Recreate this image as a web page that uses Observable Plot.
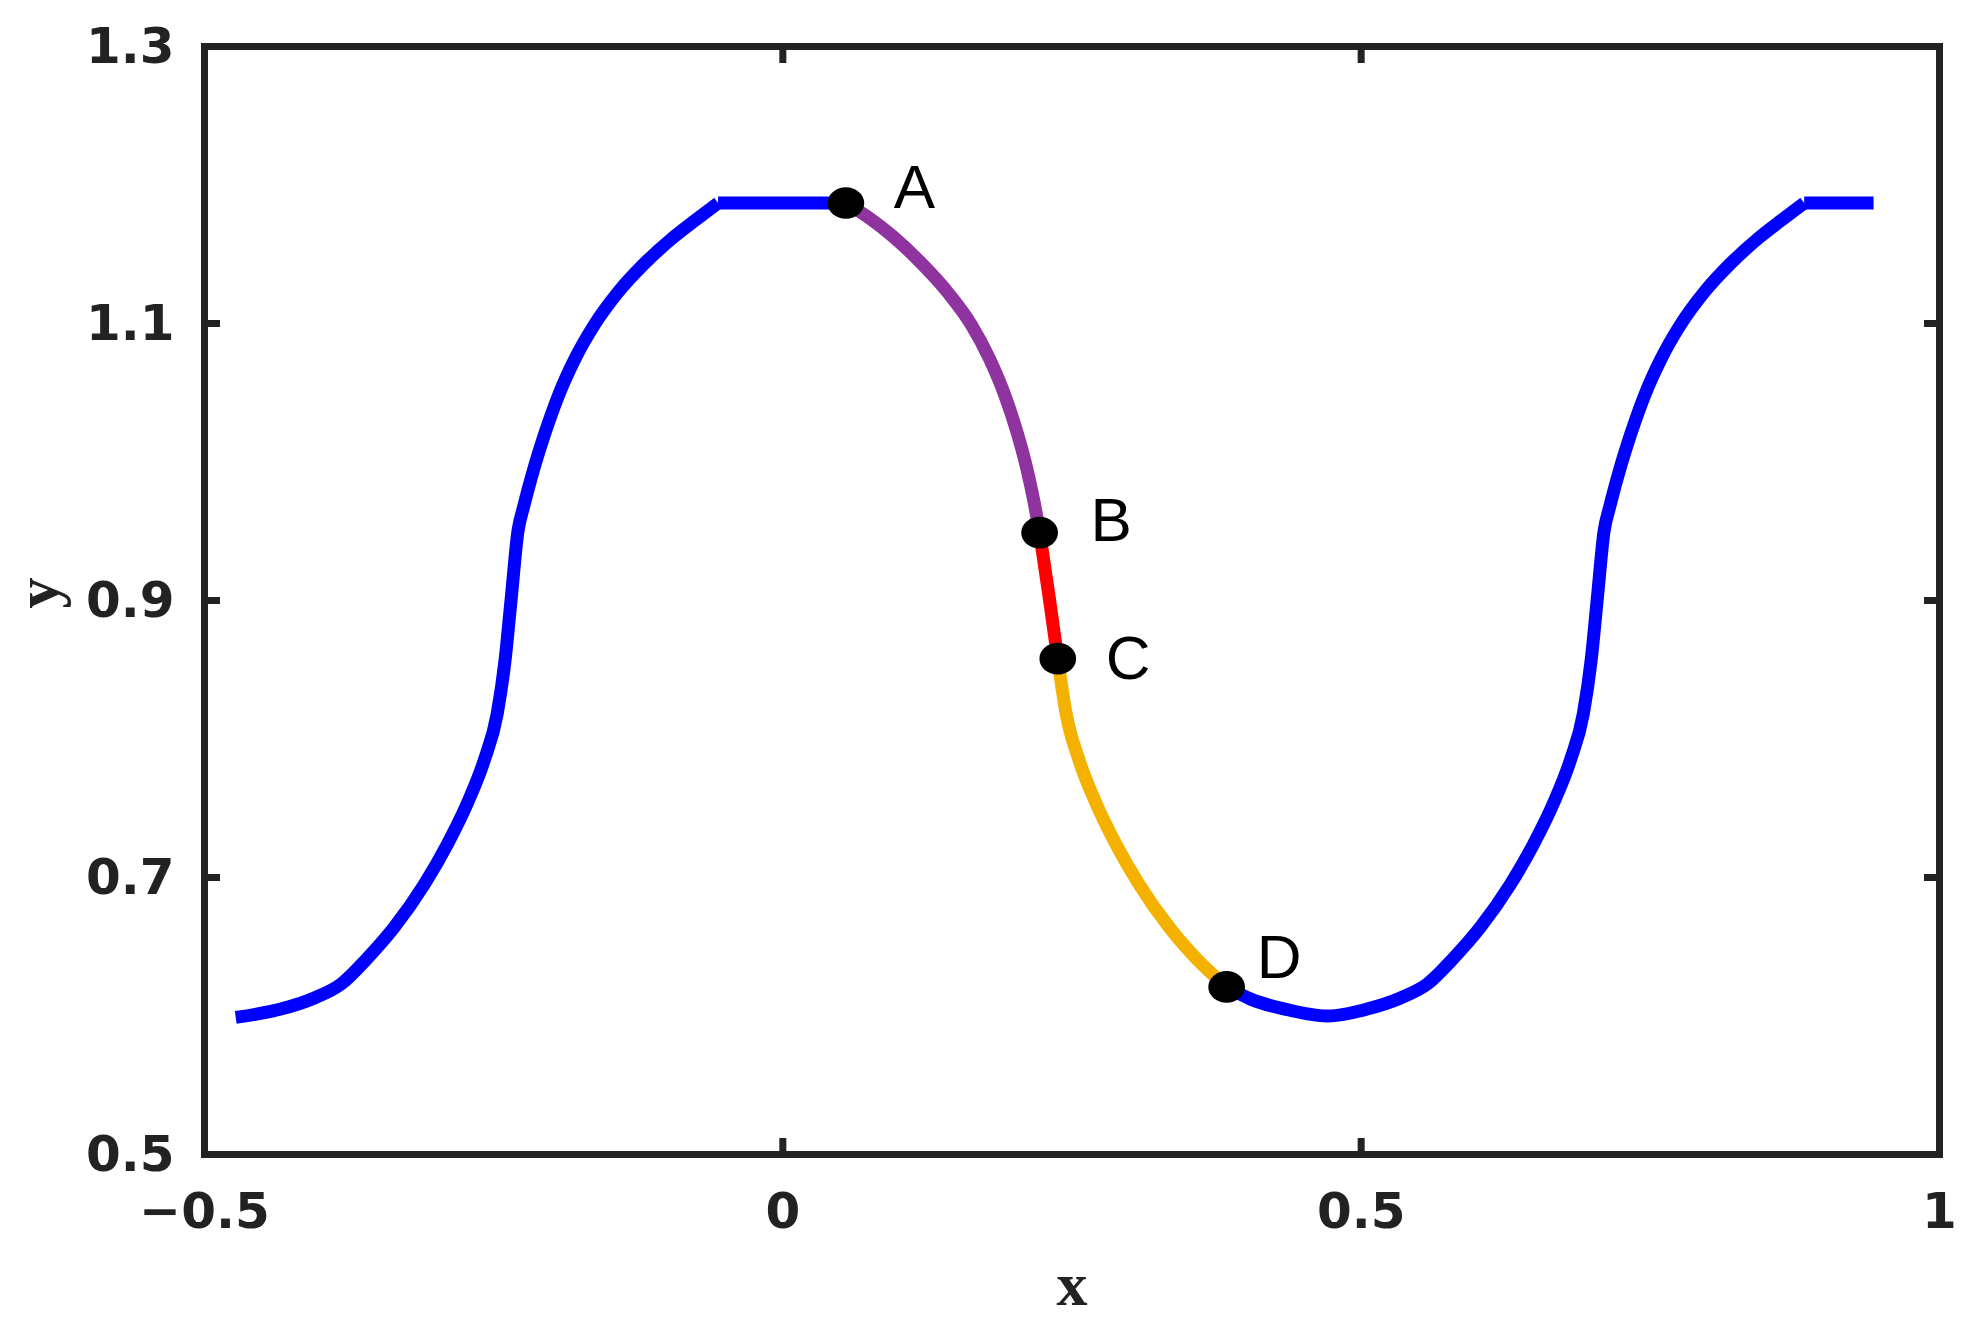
<!DOCTYPE html>
<html>
<head>
<meta charset="utf-8">
<script src="https://cdn.jsdelivr.net/npm/d3@7"></script>
<script src="https://cdn.jsdelivr.net/npm/@observablehq/plot@0.6"></script>
<style>
  html, body { margin: 0; padding: 0; background: #ffffff; }
  #chart svg { display: block; }
</style>
</head>
<body>
<div id="chart"></div>
<script>
// ---- Data ----
const xTicks = [-0.5, 0, 0.5, 1];
const xTickLabels = ["\u22120.5", "0", "0.5", "1"];
const yTicks = [0.5, 0.7, 0.9, 1.1, 1.3];
const yTickLabels = ["0.5", "0.7", "0.9", "1.1", "1.3"];

// Blue curve, left rise
const blueLeftX = [-0.473, -0.434, -0.405, -0.382, -0.360, -0.336, -0.310, -0.290, -0.272, -0.258, -0.247, -0.240, -0.235, -0.229, -0.224, -0.216, -0.206, -0.194, -0.180, -0.163, -0.143, -0.120, -0.095, -0.075, -0.056];
const blueLeftY = [0.599, 0.605, 0.613, 0.623, 0.641, 0.664, 0.695, 0.724, 0.755, 0.785, 0.818, 0.858, 0.900, 0.950, 0.968, 0.993, 1.020, 1.048, 1.074, 1.099, 1.122, 1.143, 1.162, 1.175, 1.187];
// Blue plateau up to point A
const blueTopLeftX = [-0.056, 0.0545];
const blueTopLeftY = [1.187, 1.187];

// Purple segment A -> B
const purpleX = [0.0545, 0.075, 0.095, 0.118, 0.143, 0.163, 0.179, 0.192, 0.203, 0.211, 0.217, 0.222];
const purpleY = [1.187, 1.176, 1.163, 1.145, 1.122, 1.099, 1.074, 1.048, 1.020, 0.995, 0.972, 0.949];

// Red segment B -> C
const redX = [0.222, 0.230, 0.2377];
const redY = [0.949, 0.904, 0.858];

// Orange segment C -> D
const orangeX = [0.2377, 0.245, 0.256, 0.270, 0.288, 0.308, 0.334, 0.358, 0.3837];
const orangeY = [0.858, 0.818, 0.785, 0.755, 0.724, 0.695, 0.664, 0.641, 0.621];

// Blue curve, right part (from point D)
const blueRightX = [0.3837, 0.405, 0.434, 0.471, 0.505, 0.534, 0.557, 0.579, 0.603, 0.629, 0.649, 0.667, 0.681, 0.692, 0.699, 0.704, 0.710, 0.715, 0.723, 0.733, 0.745, 0.759, 0.776, 0.796, 0.819, 0.844, 0.864, 0.883];
const blueRightY = [0.621, 0.612, 0.605, 0.600, 0.605, 0.613, 0.623, 0.641, 0.664, 0.695, 0.724, 0.755, 0.785, 0.818, 0.858, 0.900, 0.950, 0.968, 0.993, 1.020, 1.048, 1.074, 1.099, 1.122, 1.143, 1.162, 1.175, 1.187];
// Blue plateau at the right end
const blueTopRightX = [0.883, 0.943];
const blueTopRightY = [1.187, 1.187];

// Marked points
const pointNames = ["A", "B", "C", "D"];
const pointX = [0.0545, 0.222, 0.2377, 0.3837];
const pointY = [1.187, 0.949, 0.858, 0.621];

// ---- Build tables ----
const toRows = (xs, ys) => xs.map((x, i) => ({x, y: ys[i]}));
const segments = [
  {rows: toRows(blueLeftX, blueLeftY), color: "#0000FF"},
  {rows: toRows(blueTopLeftX, blueTopLeftY), color: "#0000FF"},
  {rows: toRows(purpleX, purpleY), color: "#8F339E"},
  {rows: toRows(redX, redY), color: "#FF0000"},
  {rows: toRows(orangeX, orangeY), color: "#F5B100"},
  {rows: toRows(blueRightX, blueRightY), color: "#0000FF"},
  {rows: toRows(blueTopRightX, blueTopRightY), color: "#0000FF"}
];
const points = pointNames.map((name, i) => ({name, x: pointX[i], y: pointY[i]}));

const labelOffsets = {A: [48, -15], B: [51, -11], C: [48, 0], D: [30, -29]};

// slightly wide elliptical marker
const ellipseSymbol = {
  draw(ctx, size) {
    const r = Math.sqrt(size / Math.PI);
    const a = r * 1.08, b = r * 0.93, k = 0.5523;
    ctx.moveTo(a, 0);
    ctx.bezierCurveTo(a, k * b, k * a, b, 0, b);
    ctx.bezierCurveTo(-k * a, b, -a, k * b, -a, 0);
    ctx.bezierCurveTo(-a, -k * b, -k * a, -b, 0, -b);
    ctx.bezierCurveTo(k * a, -b, a, -k * b, a, 0);
    ctx.closePath();
  }
};

const tickFont = {fontSize: 50, fontWeight: "bold", fontFamily: "'DejaVu Sans', 'Liberation Sans', Arial, sans-serif", fill: "#222222"};
const axisColor = "#222222";

const chart = Plot.plot({
  width: 1975,
  height: 1328,
  marginLeft: 204,
  marginRight: 36,
  marginTop: 46,
  marginBottom: 174,
  style: {background: "#ffffff", overflow: "visible"},
  x: {domain: [-0.5, 1], axis: null},
  y: {domain: [0.5, 1.3], axis: null},
  marks: [
    // curve segments
    ...segments.map(s => Plot.line(s.rows, {x: "x", y: "y", stroke: s.color, strokeWidth: 13, curve: "monotone-x", strokeLinecap: "butt", strokeLinejoin: "round"})),
    // points
    Plot.dot(points, {x: "x", y: "y", r: 17, symbol: ellipseSymbol, fill: "#000000", stroke: null}),
    ...points.map(p => Plot.text([p], {x: "x", y: "y", text: "name", dx: labelOffsets[p.name][0], dy: labelOffsets[p.name][1], textAnchor: "start", lineAnchor: "middle", fontSize: 62, fontFamily: "'Liberation Sans', Arial, Helvetica, sans-serif", fill: "#000000"})),
    // frame
    Plot.frame({stroke: axisColor, strokeWidth: 7}),
    // inward ticks on all four sides
    Plot.axisX(xTicks, {anchor: "bottom", tickSize: -16, tickFormat: () => "", stroke: axisColor, strokeWidth: 7, label: null}),
    Plot.axisX(xTicks, {anchor: "top", tickSize: -16, tickFormat: () => "", stroke: axisColor, strokeWidth: 7, label: null}),
    Plot.axisY(yTicks, {anchor: "left", tickSize: -16, tickFormat: () => "", stroke: axisColor, strokeWidth: 7, label: null}),
    Plot.axisY(yTicks, {anchor: "right", tickSize: -16, tickFormat: () => "", stroke: axisColor, strokeWidth: 7, label: null}),
    // tick labels
    Plot.axisX(xTicks, {anchor: "bottom", tickSize: 0, tickPadding: 38, tickFormat: d => xTickLabels[xTicks.indexOf(d)], label: null, ...tickFont}),
    Plot.axisY(yTicks, {anchor: "left", tickSize: 0, tickPadding: 30, tickFormat: d => yTickLabels[yTicks.indexOf(d)], label: null, ...tickFont}),
    // axis titles
    Plot.text(["x"], {frameAnchor: "bottom", dy: 131, lineAnchor: "middle", fontSize: 62, fontWeight: "bold", fontFamily: "'Liberation Serif', 'Times New Roman', serif", fill: "#222222"}),
    Plot.text(["y"], {frameAnchor: "left", dx: -166, dy: 8, rotate: -90, lineAnchor: "middle", fontSize: 62, fontWeight: "bold", fontFamily: "'Liberation Serif', 'Times New Roman', serif", fill: "#222222"})
  ]
});

document.getElementById("chart").appendChild(chart);
</script>
</body>
</html>
